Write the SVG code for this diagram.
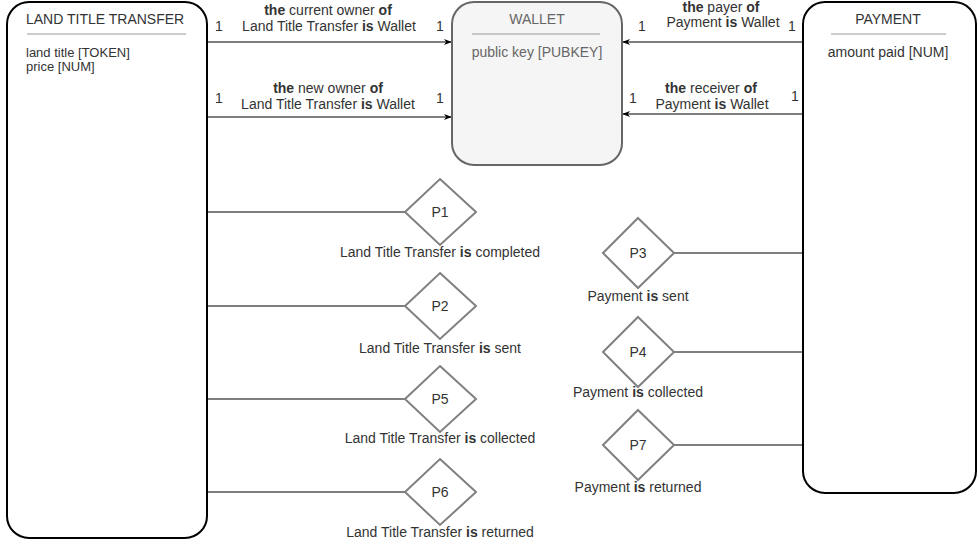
<svg xmlns="http://www.w3.org/2000/svg" width="977" height="544" viewBox="0 0 977 544">
<style>
text{font-family:"Liberation Sans",Arial,sans-serif;font-size:14px;fill:#333}
.b{font-weight:bold}
.sm{font-size:13px}
.ent{fill:#fff;stroke:#000;stroke-width:2}
.w{fill:#f5f5f5;stroke:#666;stroke-width:2}
.sep{stroke:#999;stroke-width:1}
.dia{fill:#fff;stroke:#808080;stroke-width:2}
.ln{stroke:#000;stroke-width:1.2;fill:none}
.gt{fill:#666}
</style>
<defs>
<marker id="ah" viewBox="0 0 10 10" refX="9" refY="5" markerWidth="8" markerHeight="8" orient="auto" markerUnits="userSpaceOnUse"><path d="M0,1 L10,5 L0,9 L3,5 Z" fill="#000"/></marker>
</defs>
<g id="connectors">
<line class="ln" x1="207" y1="42" x2="451" y2="42" marker-end="url(#ah)"/>
<line class="ln" x1="207" y1="117" x2="451" y2="117" marker-end="url(#ah)"/>
<line class="ln" x1="803" y1="42" x2="623" y2="42" marker-end="url(#ah)"/>
<line class="ln" x1="803" y1="114" x2="623" y2="114" marker-end="url(#ah)"/>
<line class="ln" x1="207" y1="212" x2="405" y2="212"/>
<line class="ln" x1="207" y1="306" x2="405" y2="306"/>
<line class="ln" x1="207" y1="399" x2="405" y2="399"/>
<line class="ln" x1="207" y1="492" x2="405" y2="492"/>
<line class="ln" x1="674" y1="253" x2="803" y2="253"/>
<line class="ln" x1="674" y1="352" x2="803" y2="352"/>
<line class="ln" x1="674" y1="445" x2="803" y2="445"/>
<text x="215" y="31">1</text><text x="436" y="31">1</text>
<text x="328" y="15" text-anchor="middle"><tspan class="b">the</tspan> current owner <tspan class="b">of</tspan></text>
<text x="329" y="31" text-anchor="middle">Land Title Transfer <tspan class="b">is</tspan> Wallet</text>
<text x="215" y="103">1</text><text x="436" y="103">1</text>
<text x="328" y="93" text-anchor="middle"><tspan class="b">the</tspan> new owner <tspan class="b">of</tspan></text>
<text x="328" y="109" text-anchor="middle">Land Title Transfer <tspan class="b">is</tspan> Wallet</text>
<text x="638" y="31">1</text><text x="788" y="31">1</text>
<text x="721" y="12" text-anchor="middle"><tspan class="b">the</tspan> payer <tspan class="b">of</tspan></text>
<text x="723" y="27" text-anchor="middle">Payment <tspan class="b">is</tspan> Wallet</text>
<text x="629" y="103">1</text><text x="791" y="101">1</text>
<text x="711" y="93" text-anchor="middle"><tspan class="b">the</tspan> receiver <tspan class="b">of</tspan></text>
<text x="712" y="109" text-anchor="middle">Payment <tspan class="b">is</tspan> Wallet</text>
</g>
<g id="land-title-transfer">
<rect class="ent" x="7" y="2" width="200" height="536" rx="22" ry="22"/>
<text x="26" y="24">LAND TITLE TRANSFER</text>
<line class="sep" x1="27" y1="34" x2="186" y2="34"/>
<text class="sm" x="26" y="57">land title [TOKEN]</text>
<text class="sm" x="26" y="71">price [NUM]</text>
</g>
<g id="wallet">
<rect class="w" x="452" y="2" width="170" height="163" rx="22" ry="22"/>
<text class="gt" x="537" y="24" text-anchor="middle">WALLET</text>
<line class="sep" x1="472" y1="34" x2="600" y2="34"/>
<text class="gt" x="537" y="57" text-anchor="middle">public key [PUBKEY]</text>
</g>
<g id="payment">
<rect class="ent" x="803" y="2" width="173" height="491" rx="22" ry="22"/>
<text x="888" y="24" text-anchor="middle">PAYMENT</text>
<line class="sep" x1="831" y1="34" x2="946" y2="34"/>
<text x="888" y="57" text-anchor="middle">amount paid [NUM]</text>
</g>
<g id="p1"><path class="dia" d="M440,179 L476,212 L440,245 L405,212 Z"/><text x="440" y="217" text-anchor="middle">P1</text>
<text x="440" y="257" text-anchor="middle">Land Title Transfer <tspan class="b">is</tspan> completed</text></g>
<g id="p2"><path class="dia" d="M440,273 L476,306 L440,339 L405,306 Z"/><text x="440" y="311" text-anchor="middle">P2</text>
<text x="440" y="353" text-anchor="middle">Land Title Transfer <tspan class="b">is</tspan> sent</text></g>
<g id="p5"><path class="dia" d="M440,366 L476,399 L440,432 L405,399 Z"/><text x="440" y="404" text-anchor="middle">P5</text>
<text x="440" y="443" text-anchor="middle">Land Title Transfer <tspan class="b">is</tspan> collected</text></g>
<g id="p6"><path class="dia" d="M440,459 L476,492 L440,525 L405,492 Z"/><text x="440" y="497" text-anchor="middle">P6</text>
<text x="440" y="537" text-anchor="middle">Land Title Transfer <tspan class="b">is</tspan> returned</text></g>
<g id="p3"><path class="dia" d="M638,218 L674,253 L638,288 L603,253 Z"/><text x="638" y="258" text-anchor="middle">P3</text>
<text x="638" y="301" text-anchor="middle">Payment <tspan class="b">is</tspan> sent</text></g>
<g id="p4"><path class="dia" d="M638,317 L674,352 L638,387 L603,352 Z"/><text x="638" y="357" text-anchor="middle">P4</text>
<text x="638" y="397" text-anchor="middle">Payment <tspan class="b">is</tspan> collected</text></g>
<g id="p7"><path class="dia" d="M638,410 L674,445 L638,480 L603,445 Z"/><text x="638" y="450" text-anchor="middle">P7</text>
<text x="638" y="492" text-anchor="middle">Payment <tspan class="b">is</tspan> returned</text></g>
</svg>
